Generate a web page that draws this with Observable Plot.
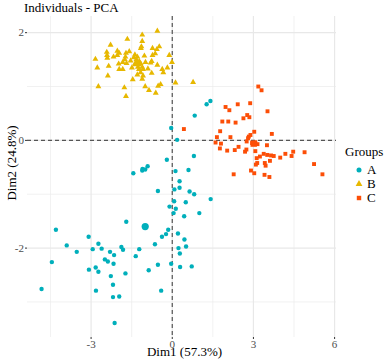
<!DOCTYPE html>
<html><head><meta charset="utf-8">
<script src="https://cdn.jsdelivr.net/npm/d3@7"></script>
<script src="https://cdn.jsdelivr.net/npm/@observablehq/plot@0.6"></script>
<style>
html,body{margin:0;padding:0;background:#fff;}
#wrap{position:relative;width:387px;height:361px;font-family:"Liberation Serif",serif;color:#000;overflow:hidden;}
#wrap svg.plot{position:absolute;left:0;top:0;}
#wrap svg text{font-family:"Liberation Serif",serif !important;}
.lbl{position:absolute;white-space:nowrap;font-size:13px;line-height:15px;}
#title{left:24px;top:0px;}
#xtitle{left:184.5px;top:344px;transform:translateX(-50%);}
#ytitle{left:11px;top:163px;transform:translate(-50%,-50%) rotate(-90deg);}
#legend{position:absolute;left:345px;top:144px;font-size:13px;line-height:15px;}
#legend .item{position:absolute;left:9px;height:14px;white-space:nowrap;}
#legend .item svg{position:absolute;left:0;top:0;}
#legend .item span{position:absolute;left:13px;top:-1px;}
</style></head><body><div id="wrap"></div>
<script>
// Groups and style scales
const groups = ["A", "B", "C"];
const groupColors = ["#00AFBB", "#E7B800", "#FC4E07"];
const groupShapes = ["circle", "triangle", "square"];

// Individuals coordinates (Dim1, Dim2)
const aX = [1.41,1.27,0.83,-0.04,0.18,-0.20,0.80,-1.10,-1.00,-0.91,-1.11,-1.44,0.12,0.60,0.27,-0.53,0.08,0.27,0.64,0.81,1.42,0.07,0.50,-0.10,0.13,0.05,1.00,0.44,-1.70,-4.30,-0.15,0.21,-0.23,-0.38,0.45,-3.09,-3.90,-2.73,-0.64,-1.88,-2.94,-2.61,-1.82,-1.22,0.23,0.51,-3.53,-2.30,-2.15,-1.35,0.28,-2.49,-2.38,-4.45,-2.17,-0.53,-0.04,0.29,0.72,-2.83,-3.08,-2.73,-0.87,-1.73,-2.27,-2.19,-4.83,-2.82,-0.41,-2.19,-1.96,-2.13];
const aY = [0.73,0.67,0.46,0.23,0.01,-0.36,-0.29,-0.53,-0.54,-0.48,-0.56,-0.61,-0.57,-0.55,-0.76,-0.94,-0.91,-0.88,-0.95,-1.00,-1.09,-1.13,-1.15,-1.23,-1.27,-1.35,-1.35,-1.41,-1.51,-1.66,-1.66,-1.73,-1.74,-1.79,-1.84,-1.79,-1.95,-1.92,-1.93,-1.98,-2.02,-2.01,-2.03,-2.02,-2.00,-1.97,-2.07,-2.07,-2.13,-2.15,-2.10,-2.21,-2.25,-2.26,-2.29,-2.31,-2.29,-2.35,-2.34,-2.36,-2.40,-2.44,-2.41,-2.47,-2.52,-2.68,-2.76,-2.79,-2.79,-2.91,-2.90,-3.39];
const bX = [-0.55,-1.11,-1.66,-2.28,-1.11,-1.14,-1.16,-0.73,-0.48,-0.57,-2.42,-2.03,-1.96,-1.71,-1.59,-2.41,-2.17,-2.03,-1.73,-1.38,-1.03,-0.73,-0.63,-0.11,-2.84,-2.40,-1.42,-1.29,-1.75,-1.54,-1.33,-1.22,-0.76,-0.01,-1.98,-1.83,-1.69,-1.37,-1.17,-0.99,-0.80,-0.55,-2.35,-1.49,-1.27,-1.11,-2.77,-0.37,-0.18,-1.96,-1.83,-1.23,-1.08,-0.90,-1.17,-0.76,-0.33,-2.38,-1.29,-1.08,-1.46,-1.11,0.12,0.77,-0.43,-0.52,-2.73,-1.77,-1.00,-0.86,-0.61,-1.71];
const bY = [2.03,1.96,1.88,1.77,1.84,1.74,1.71,1.71,1.74,1.69,1.64,1.66,1.62,1.62,1.65,1.58,1.55,1.58,1.55,1.59,1.57,1.58,1.61,1.58,1.51,1.53,1.54,1.55,1.50,1.48,1.50,1.47,1.47,1.45,1.42,1.45,1.43,1.43,1.43,1.45,1.44,1.40,1.38,1.35,1.36,1.36,1.35,1.32,1.35,1.32,1.32,1.32,1.32,1.33,1.26,1.25,1.26,1.20,1.22,1.20,1.13,1.14,1.07,1.08,1.04,1.01,1.00,0.98,1.00,0.93,0.88,0.82];
const cX = [3.18,3.30,1.97,2.42,2.88,2.11,3.52,2.77,2.85,2.63,1.85,2.07,2.34,0.43,1.77,3.03,3.68,1.65,2.15,2.83,2.89,2.80,1.60,1.80,2.75,3.07,3.50,2.45,1.76,2.03,2.31,2.69,2.74,3.07,3.38,3.51,3.65,3.75,3.24,3.12,4.18,4.47,4.89,4.41,3.99,3.61,3.14,3.09,3.42,3.45,2.91,3.03,2.27,3.41,3.59,5.24,5.55,2.95,3.15];
const cY = [1.00,0.93,0.62,0.67,0.69,0.56,0.54,0.47,0.43,0.41,0.35,0.35,0.33,0.21,0.17,0.16,0.12,0.06,0.06,0.07,0.10,0.04,-0.04,-0.06,-0.02,-0.04,-0.09,-0.12,-0.15,-0.19,-0.18,-0.21,-0.17,-0.20,-0.25,-0.27,-0.28,-0.29,-0.30,-0.33,-0.25,-0.21,-0.22,-0.29,-0.32,-0.38,-0.42,-0.45,-0.42,-0.47,-0.56,-0.61,-0.63,-0.64,-0.68,-0.44,-0.63,-0.05,-0.07];

// Group centroids (large symbols)
const centroidX = [-1.00, -1.30, 3.01];
const centroidY = [-1.60, 1.43, -0.06];

// Axis ticks, grid and labels
const xTicks = [-3, 0, 3, 6];
const yTicks = [-2, 0, 2];
const xMinor = [-4.5, -1.5, 1.5, 4.5];
const yMinor = [-3, -1, 1];
const xDomain = [-5.35, 6.07];
const yDomain = [-3.66, 2.30];
const titleText = "Individuals - PCA";
const xTitle = "Dim1 (57.3%)";
const yTitle = "Dim2 (24.8%)";
const legendTitle = "Groups";

const xs = [aX, bX, cX], ys = [aY, bY, cY];
const points = groups.flatMap((g, i) => xs[i].map((x, j) => ({group: g, x, y: ys[i][j]})));
const centroids = groups.map((g, i) => ({group: g, x: centroidX[i], y: centroidY[i]}));

const chart = Plot.plot({
  width: 387, height: 361,
  marginLeft: 27, marginRight: 51, marginTop: 16, marginBottom: 24,
  x: {domain: xDomain},
  y: {domain: yDomain},
  color: {domain: groups, range: groupColors},
  symbol: {domain: groups, range: groupShapes},
  style: {fontFamily: "'Liberation Serif', serif", fontSize: "11px", color: "#4d4d4d", background: "#fff", overflow: "visible"},
  marks: [
    Plot.ruleX(xMinor, {stroke: "#ebebeb", strokeWidth: 0.7}),
    Plot.ruleY(yMinor, {stroke: "#ebebeb", strokeWidth: 0.7}),
    Plot.ruleX(xTicks, {stroke: "#e8e8e8", strokeWidth: 1.2}),
    Plot.ruleY(yTicks, {stroke: "#e8e8e8", strokeWidth: 1.2}),
    Plot.ruleX([0], {stroke: "#555", strokeWidth: 1.2, strokeDasharray: "4,3"}),
    Plot.ruleY([0], {stroke: "#555", strokeWidth: 1.2, strokeDasharray: "4,3"}),
    Plot.dot(points, {x: "x", y: "y", symbol: "group", fill: "group", stroke: "none", r: 2.2}),
    Plot.dot(centroids, {x: "x", y: "y", symbol: "group", fill: "group", stroke: "none", r: 3.6}),
    Plot.axisX({ticks: xTicks, tickSize: 2, tickPadding: 1, tickFormat: d => String(d), label: null, stroke: "#333", fontFamily: "Liberation Serif"}),
    Plot.axisY({ticks: yTicks, tickSize: 2, tickPadding: 1.5, tickFormat: d => String(d), label: null, stroke: "#333", fontFamily: "Liberation Serif"})
  ]
});
chart.classList.add("plot");
const wrap = document.getElementById("wrap");
wrap.appendChild(chart);

function addLabel(id, text) {
  const d = document.createElement("div");
  d.className = "lbl"; d.id = id; d.textContent = text;
  wrap.appendChild(d);
}
addLabel("title", titleText);
addLabel("xtitle", xTitle);
addLabel("ytitle", yTitle);

// Legend
const leg = document.createElement("div");
leg.id = "legend";
const lt = document.createElement("div");
lt.textContent = legendTitle;
leg.appendChild(lt);
groups.forEach((g, i) => {
  const it = document.createElement("div");
  it.className = "item";
  it.style.top = (19 + i * 14) + "px";
  const sym = d3.create("svg").attr("width", 10).attr("height", 14);
  const type = {circle: d3.symbolCircle, triangle: d3.symbolTriangle, square: d3.symbolSquare}[groupShapes[i]];
  sym.append("path").attr("transform", "translate(5,7)")
    .attr("d", d3.symbol(type, Math.PI * 2.5 * 2.5)()).attr("fill", groupColors[i]);
  it.appendChild(sym.node());
  const sp = document.createElement("span");
  sp.textContent = g;
  it.appendChild(sp);
  leg.appendChild(it);
});
wrap.appendChild(leg);
</script>
</body></html>
